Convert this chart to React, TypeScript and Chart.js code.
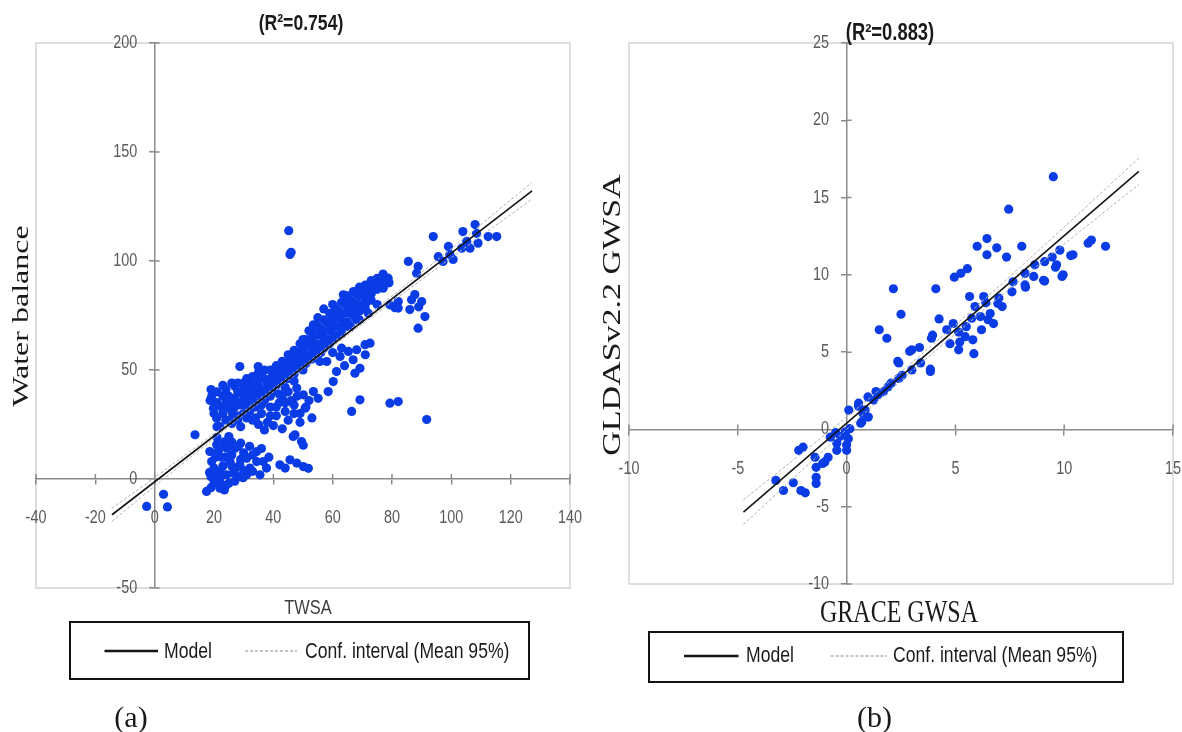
import React, { useEffect, useRef } from "react";
import { Chart, registerables } from "chart.js";

Chart.register(...registerables);

const SANS = '"Liberation Sans", Arial, sans-serif';
const SERIF = '"Liberation Serif", "Times New Roman", serif';

// ---------- Panel (a): TWSA vs Water balance ----------
const panelATitle = "(R\u00B2=0.754)";
const panelAXTitle = "TWSA";
const panelAYTitle = "Water balance";
const panelACaption = "(a)";
const panelAXRange = [-40, 140, 20];
const panelAYRange = [-50, 200, 50];
const panelAPoints: [number, number][] = [
  // near origin
  [-2.7, -12.6], [3, -7], [4.3, -12.8], [13.6, 20.3],
  // low cluster
  [17.5, -5.7], [20, -2], [22, -4.2], [24, -3], [22, -1.1], [27, -1], [19, 1], [21.4, 3.4],
  [20, 5], [23, 6], [19.2, 8], [22.5, 10], [18.6, 12.6], [20.9, 15.7], [23.5, 17], [24.3, 14.1],
  [26, 11], [28.2, 14.9], [29, 16.5], [30, 12], [32, 15], [24.3, 1.9], [28.2, 1.1], [29.8, 0.6],
  [26.5, 2.8], [31, 2], [33, 3.5], [35.5, 1.9], [25.4, 8], [28.7, 6.5], [31, 9.5], [32.1, 5],
  [34.4, 12.6], [34.4, 8], [36.6, 8], [37.7, 5], [38.5, 10], [36, 14], [42.2, 6.5], [44, 5],
  [45.6, 8.8], [47.9, 7.3], [50.1, 5.7], [51.8, 4.9], [46.7, 19.5], [49.5, 17.2], [47.3, 20.3],
  [50.1, 15.5], [21, 19], [25, 19.5], [27, 4.5], [33, 11],
  [18.5, 3], [20.5, 10], [21.5, 13], [23, 2], [24, 10], [26, 6], [27, 14], [29, 9], [30, 4],
  [25, -2], [19, -4], [21, 0], [23.5, -5], [26, 17], [22, 15],
  // middle-left cluster
  [19.2, 37.8], [19.8, 32.5], [20.9, 27.9], [18.7, 36], [21, 40], [22, 24], [23, 30], [24, 35],
  [25, 38], [26, 28], [27, 33], [28, 40], [29, 24], [30, 30], [31, 36], [32, 42], [33, 27],
  [34, 33], [35, 39], [36, 30], [37, 36], [38, 26], [39, 33], [40, 40], [41, 29], [42, 35],
  [43, 38], [44, 31], [45, 27], [46, 36], [24, 41], [27, 42.5], [30, 41], [35, 43], [22.5, 33],
  [26, 25.5], [32, 31], [40, 24.5], [43, 23], [37, 22.5], [47, 30], [49, 26], [51, 33], [53, 28],
  [48, 38], [44, 42], [28.7, 51.6], [34.9, 51.6],
  [20, 30], [21, 35], [23, 38], [25, 33], [27, 37], [29, 34], [30, 38], [31, 28], [33, 39],
  [34, 28], [36, 34], [38, 38], [39, 29], [41, 33], [42, 39], [44, 35], [45, 40], [47, 34],
  [49, 30], [52, 36], [21, 24], [24, 27], [28, 27], [35, 25], [19, 41], [23, 43],
  // upper band
  [30, 44], [32, 45], [34, 42], [36, 47], [38, 44], [40, 48], [41, 45], [42, 51], [43, 47],
  [44, 53], [45, 50], [46, 55], [47, 52], [48, 58], [49, 55], [50, 60], [51, 57], [52, 63],
  [53, 60], [54, 66], [55, 62], [56, 69], [57, 65], [58, 72], [59, 68], [60, 74], [61, 70],
  [62, 77], [63, 73], [64, 80], [65, 76], [66, 82], [67, 78], [68, 85], [69, 80], [70, 87],
  [71, 83], [72, 88], [73, 85], [74, 90], [75, 87], [76, 91], [77, 88], [78, 92], [36, 40],
  [39, 42], [42, 46], [45, 48], [48, 52], [51, 54], [54, 57], [57, 60], [60, 64], [63, 67],
  [66, 70], [69, 73], [72, 76], [75, 80], [47, 45], [50, 50], [53, 55], [56, 58], [59, 62],
  [62, 66], [65, 70], [68, 73], [71, 78], [63.6, 84.5], [53.5, 70.7], [57, 78], [60, 80],
  [55, 74], [52, 68], [50, 64], [75, 92], [77, 94], [79, 90],
  [26, 31], [26, 36], [26, 44], [28, 35], [28, 44], [28, 29], [31, 33], [31, 39], [31, 46],
  [33, 36], [33, 43], [33, 47], [35, 35], [35, 46], [35, 49], [37, 41], [37, 46], [37, 50],
  [39, 38], [39, 46], [39, 50], [41, 43], [41, 49], [41, 52], [43, 44], [43, 50], [43, 54],
  [45, 46], [45, 52], [45, 57], [47, 48], [47, 55], [47, 59], [49, 51], [49, 58], [49, 62],
  [51, 53], [51, 61], [51, 64], [53, 57], [53, 63], [53, 67], [55, 58], [55, 66], [55, 70],
  [57, 62], [57, 68], [57, 73], [59, 64], [59, 71], [59, 76], [61, 66], [61, 74], [61, 78],
  [63, 70], [63, 76], [63, 81], [65, 72], [65, 79], [65, 84], [67, 75], [67, 81], [67, 86],
  [69, 77], [69, 84], [69, 88], [71, 80], [71, 86], [71, 89], [73, 82], [73, 88], [73, 91],
  // upper right
  [77, 87.5], [78.7, 92.1], [79.3, 79.9], [82.1, 78.4], [86, 77.7], [88.8, 69.2], [85.5, 99.8],
  [82.1, 81.4], [86.6, 82.2], [87.7, 84.6], [90, 81.4], [91.1, 74.5], [89, 79], [81, 78.6],
  [93.9, 111.2], [88.8, 97.5], [88.3, 94.4], [95.6, 102], [99, 106.7], [99.5, 103], [100.6, 100.7],
  [97.2, 99.8], [103.9, 113.5], [105.2, 109], [108, 116.7], [108.5, 112.7], [109, 108.2],
  [112.4, 111.2], [115.3, 111.2], [106.3, 105.9], [103.5, 105.9],
  // lower right group
  [62.5, 56.2], [65.3, 58.5], [68.1, 59.3], [70.9, 61.6], [72.6, 62.3], [66.9, 54.7], [69.2, 50.8],
  [67.5, 48.5], [61.3, 49.3], [60.2, 44.7], [58.5, 40.1], [58, 53.9], [55.7, 53.9], [64, 52],
  [71, 57], [69.2, 36.3], [66.4, 31], [79.3, 34.8], [82.1, 35.5], [91.7, 27.3], [47.9, 41.7],
  [50.1, 38.6], [53.5, 40.1], [55.1, 37], [50.7, 32.5], [46.5, 35], [63, 60], [60, 58],
  // outliers
  [45.2, 113.9], [45.6, 103], [46, 104],
];
const panelAModelX = [-14.4, 127.2];
const panelAModelY = [-16.4, 132.2];
const panelACiX = [-14.4, 0, 20, 40, 60, 80, 100, 127.2];
const panelACiUpper = [-13.4, 0.7, 20.8, 41.4, 62.4, 83.9, 105.7, 136.0];
const panelACiLower = [-19.4, -3.3, 18.6, 40.0, 60.8, 81.3, 101.5, 128.4];

// ---------- Panel (b): GRACE GWSA vs GLDASv2.2 GWSA ----------
const panelBTitle = "(R\u00B2=0.883)";
const panelBXTitle = "GRACE GWSA";
const panelBYTitle = "GLDASv2.2 GWSA";
const panelBCaption = "(b)";
const panelBXRange = [-10, 15, 5];
const panelBYRange = [-10, 25, 5];
const panelBPoints: [number, number][] = [
  [-3.25, -3.3], [-2.9, -3.95], [-2.45, -3.45], [-2.1, -3.95], [-1.9, -4.1], [-2.2, -1.35],
  [-2.0, -1.15], [-1.45, -1.8], [-1.4, -2.45], [-1.4, -3.1], [-1.4, -3.5], [-1.0, -2.1],
  [-0.85, -1.8], [-1.1, -2.2], [-0.75, -0.5], [-0.45, -0.9], [-0.45, -1.35], [-0.3, -0.45],
  [-0.05, -0.15], [0.0, -1.0], [0.0, -1.35], [0.08, -0.6], [0.15, 0.05], [-0.5, -0.2],
  [0.1, 1.25], [0.55, 1.5], [0.75, 1.05], [1.0, 0.8], [0.7, 0.5], [0.85, 1.25], [1.25, 1.9],
  [1.45, 2.25], [1.7, 2.45], [1.9, 2.75], [0.55, 1.7], [0.65, 0.4], [0.98, 2.1], [1.35, 2.45],
  [2.05, 3.0], [2.4, 3.3], [2.55, 3.5], [3.0, 3.85], [3.4, 4.3], [3.85, 3.75], [2.4, 4.3],
  [1.5, 6.45], [1.85, 5.9], [2.15, 9.1], [2.5, 7.45], [2.35, 4.4], [2.9, 5.05], [3.35, 5.3],
  [3.0, 5.15], [3.85, 3.9], [3.9, 5.9], [3.95, 6.1], [4.1, 9.1], [4.25, 7.15], [4.6, 6.45],
  [4.75, 5.55], [5.2, 5.65], [5.45, 6.0], [4.9, 6.85], [5.15, 6.3], [5.5, 6.65], [5.8, 5.8],
  [5.75, 7.2], [6.15, 7.3], [6.3, 8.6], [5.9, 7.95], [6.6, 7.5], [6.75, 6.85], [7.0, 8.5],
  [7.15, 7.95], [5.65, 8.6], [6.4, 8.2], [5.15, 5.15], [5.85, 4.9], [6.2, 6.45], [6.5, 7.1],
  [6.95, 8.15], [4.95, 9.85], [5.25, 10.1], [5.55, 10.4], [6.0, 11.85], [6.45, 12.35],
  [6.45, 11.3], [6.9, 11.75], [7.35, 11.15], [8.05, 11.85], [7.45, 14.25], [9.5, 16.35],
  [7.6, 8.9], [7.65, 9.55], [8.2, 9.35], [8.22, 9.2], [8.6, 9.9], [9.05, 9.65], [8.2, 10.1],
  [8.65, 10.65], [9.1, 10.85], [9.45, 11.15], [9.8, 11.6], [9.65, 10.65], [9.95, 10.0],
  [10.4, 11.3], [11.1, 12.05], [11.25, 12.25], [11.9, 11.85], [9.9, 9.9], [9.6, 10.5],
  [10.3, 11.25], [9.1, 9.6],
];
const panelBModelX = [-4.74, 13.43];
const panelBModelY = [-5.35, 16.7];
const panelBCiX = [-4.74, -2, 0, 2, 4, 6, 8, 10, 13.43];
const panelBCiUpper = [-4.55, -1.48, 0.8, 3.13, 5.54, 8.0, 10.53, 13.09, 17.55];
const panelBCiLower = [-6.15, -2.58, 0.0, 2.53, 4.98, 7.36, 9.69, 11.99, 15.85];

const legendModel = "Model";
const legendCi = "Conf. interval (Mean 95%)";

const AXIS_COLOR = "#8a8a8a";
const TICK_COLOR = "#595959";
const POINT_COLOR = "#0a3ce6";

function pairs(xs: number[], ys: number[]) {
  return xs.map((x, i) => ({ x, y: ys[i] }));
}

function excelAxesPlugin() {
  return {
    id: "excelAxes",
    beforeDraw(chart: any) {
      const { ctx, chartArea: a } = chart;
      ctx.save();
      ctx.strokeStyle = "#d4d4d4";
      ctx.lineWidth = 1.5;
      ctx.strokeRect(a.left, a.top, a.right - a.left, a.bottom - a.top);
      ctx.restore();
    },
    beforeDatasetsDraw(chart: any) {
      const { ctx } = chart;
      const xs = chart.scales.x;
      const ys = chart.scales.y;
      const x0 = xs.getPixelForValue(0);
      const y0 = ys.getPixelForValue(0);
      ctx.save();
      ctx.strokeStyle = AXIS_COLOR;
      ctx.lineWidth = 1.5;
      ctx.beginPath();
      xs.ticks.forEach((t: any) => {
        const px = xs.getPixelForValue(t.value);
        ctx.moveTo(px, y0);
        ctx.lineTo(px, y0 - 5);
      });
      ys.ticks.forEach((t: any) => {
        const py = ys.getPixelForValue(t.value);
        ctx.moveTo(x0, py);
        ctx.lineTo(x0 + 5, py);
      });
      ctx.stroke();
      ctx.fillStyle = TICK_COLOR;
      ctx.font = `18px ${SANS}`;
      ctx.textBaseline = "middle";
      const put = (text: string, x: number, y: number, align: string) => {
        ctx.save();
        ctx.translate(x, y);
        ctx.scale(0.8, 1);
        ctx.textAlign = align;
        ctx.fillText(text, 0, 0);
        ctx.restore();
      };
      xs.ticks.forEach((t: any) => put(String(t.value), xs.getPixelForValue(t.value), y0 + 39.5, "center"));
      ys.ticks.forEach((t: any) => put(String(t.value), x0 - 17.5, ys.getPixelForValue(t.value), "right"));
      ctx.restore();
    },
  };
}

function makeChart(
  canvas: HTMLCanvasElement,
  points: [number, number][],
  modelX: number[],
  modelY: number[],
  ciX: number[],
  ciUp: number[],
  ciLo: number[],
  xr: number[],
  yr: number[],
  padding: { left: number; right: number; top: number; bottom: number }
) {
  const axisCommon = {
    type: "linear" as const,
    grid: { display: true, drawOnChartArea: false, drawTicks: true, tickLength: 5, color: AXIS_COLOR, lineWidth: 1.5 },
    border: { display: true, color: AXIS_COLOR, width: 1.5 },
  };
  return new Chart(canvas, {
    type: "scatter",
    data: {
      datasets: [
        {
          label: legendModel,
          data: pairs(modelX, modelY),
          showLine: true,
          borderColor: "#151515",
          borderWidth: 1.6,
          pointRadius: 0,
        },
        {
          label: legendCi,
          data: pairs(ciX, ciUp),
          showLine: true,
          borderColor: "#b0b0b0",
          borderWidth: 1,
          borderDash: [3, 2],
          pointRadius: 0,
          cubicInterpolationMode: "monotone",
        },
        {
          label: legendCi + " ",
          data: pairs(ciX, ciLo),
          showLine: true,
          borderColor: "#b0b0b0",
          borderWidth: 1,
          borderDash: [3, 2],
          pointRadius: 0,
          cubicInterpolationMode: "monotone",
        },
        {
          label: "Observations",
          data: points.map(([x, y]) => ({ x, y })),
          backgroundColor: POINT_COLOR,
          borderColor: POINT_COLOR,
          borderWidth: 0,
          pointRadius: 4.6,
          pointHoverRadius: 4.6,
        },
      ],
    },
    options: {
      animation: false,
      responsive: false,
      maintainAspectRatio: false,
      events: [],
      layout: { padding },
      plugins: { legend: { display: false }, tooltip: { enabled: false }, title: { display: false } },
      scales: {
        x: {
          ...axisCommon,
          min: xr[0],
          max: xr[1],
          position: { y: 0 },
          ticks: { stepSize: xr[2], display: false },
          afterFit: (s: any) => {
            s.height = 0;
          },
        },
        y: {
          ...axisCommon,
          min: yr[0],
          max: yr[1],
          position: { x: 0 },
          ticks: { stepSize: yr[2], display: false },
          afterFit: (s: any) => {
            s.width = 0;
          },
        },
      },
    } as any,
    plugins: [excelAxesPlugin() as any],
  });
}

type TextProps = {
  x: number;
  y: number;
  text: string;
  font: string;
  size: number;
  weight?: number;
  color?: string;
  sx?: number;
  sy?: number;
  rotate?: number;
  left?: boolean;
};

function Txt({ x, y, text, font, size, weight = 400, color = "#1a1a1a", sx = 1, sy = 1, rotate = 0, left = false }: TextProps) {
  return (
    <div
      style={{
        position: "absolute",
        left: x,
        top: y,
        fontFamily: font,
        fontSize: size,
        fontWeight: weight,
        color,
        lineHeight: 1,
        whiteSpace: "nowrap",
        transformOrigin: left ? "left center" : "center center",
        transform: `translate(${left ? "0" : "-50%"}, -50%) rotate(${rotate}deg) scale(${sx}, ${sy})`,
      }}
    >
      {text}
    </div>
  );
}

export default function App() {
  const refA = useRef<HTMLCanvasElement>(null);
  const refB = useRef<HTMLCanvasElement>(null);

  useEffect(() => {
    const a = makeChart(
      refA.current!,
      panelAPoints,
      panelAModelX,
      panelAModelY,
      panelACiX,
      panelACiUpper,
      panelACiLower,
      panelAXRange,
      panelAYRange,
      { left: 36, right: 20, top: 43, bottom: 12 }
    );
    const b = makeChart(
      refB.current!,
      panelBPoints,
      panelBModelX,
      panelBModelY,
      panelBCiX,
      panelBCiUpper,
      panelBCiLower,
      panelBXRange,
      panelBYRange,
      { left: 39, right: 9, top: 43, bottom: 16 }
    );
    return () => {
      a.destroy();
      b.destroy();
    };
  }, []);

  return (
    <div style={{ position: "fixed", left: 0, top: 0, width: 1182, height: 732, background: "#fff", overflow: "hidden" }}>
      <canvas ref={refA} width={590} height={600} style={{ position: "absolute", left: 0, top: 0, width: 590, height: 600 }} />
      <canvas ref={refB} width={592} height={600} style={{ position: "absolute", left: 590, top: 0, width: 592, height: 600 }} />
      <svg width={1182} height={732} style={{ position: "absolute", left: 0, top: 0, pointerEvents: "none" }}>
        <rect x={70} y={622} width={459} height={57} fill="none" stroke="#111" strokeWidth={2} />
        <line x1={104.5} y1={651} x2={158} y2={651} stroke="#151515" strokeWidth={2.5} />
        <line x1={245} y1={651} x2={297} y2={651} stroke="#c4c4c4" strokeWidth={2} strokeDasharray="3 2" />
        <rect x={649} y={632} width={474} height={50} fill="none" stroke="#111" strokeWidth={2} />
        <line x1={684} y1={656} x2={738.5} y2={656} stroke="#151515" strokeWidth={2.5} />
        <line x1={830.6} y1={656} x2={887} y2={656} stroke="#c4c4c4" strokeWidth={2} strokeDasharray="3 2" />
      </svg>
      <Txt x={301} y={23} text={panelATitle} font={SANS} size={22} weight={700} sx={0.8} />
      <Txt x={20} y={316} text={panelAYTitle} font={SERIF} size={32} rotate={-90} sy={0.75} />
      <Txt x={308} y={607} text={panelAXTitle} font={SANS} size={20} sx={0.82} color="#404040" />
      <Txt x={164} y={651} text={legendModel} font={SANS} size={22} sx={0.8} left />
      <Txt x={304.5} y={651} text={legendCi} font={SANS} size={22} sx={0.8} left />
      <Txt x={131} y={717} text={panelACaption} font={SERIF} size={30} />

      <Txt x={890} y={32} text={panelBTitle} font={SANS} size={23} weight={700} sx={0.8} />
      <Txt x={612} y={315} text={panelBYTitle} font={SERIF} size={34} rotate={-90} sy={0.75} />
      <Txt x={899} y={611} text={panelBXTitle} font={SERIF} size={32} sx={0.75} />
      <Txt x={746} y={655} text={legendModel} font={SANS} size={22} sx={0.8} left />
      <Txt x={893} y={655} text={legendCi} font={SANS} size={22} sx={0.8} left />
      <Txt x={874.5} y={717} text={panelBCaption} font={SERIF} size={30} />
    </div>
  );
}
